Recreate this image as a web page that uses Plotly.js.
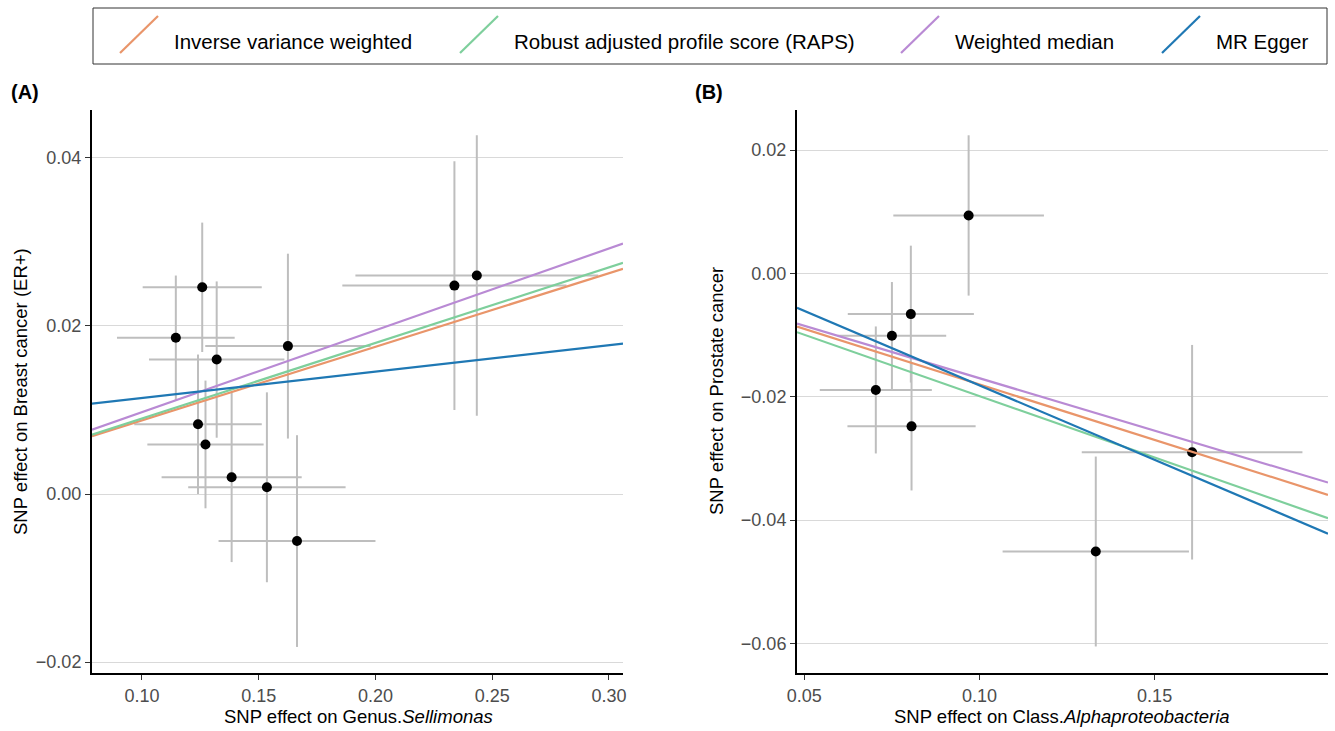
<!DOCTYPE html>
<html>
<head>
<meta charset="utf-8">
<script src="https://cdn.plot.ly/plotly-3.0.1.min.js"></script>
<style>html,body{margin:0;padding:0;background:#fff;}#chart{width:1335px;height:731px;}</style>
</head>
<body>
<div id="chart"></div>
<script>
// ---------- Data ----------
// Panel A: Genus.Sellimonas -> Breast cancer (ER+)
const bxA  = [0.1145, 0.1258, 0.1320, 0.1625, 0.2338, 0.2434, 0.1240, 0.1272, 0.1384, 0.1535, 0.1664];
const byA  = [0.0186, 0.0246, 0.0160, 0.0176, 0.0248, 0.0260, 0.0083, 0.0059, 0.0020, 0.0008, -0.0056];
const sexA = [0.0252, 0.0255, 0.0290, 0.0354, 0.0480, 0.0520, 0.0273, 0.0249, 0.0300, 0.0337, 0.0336];
const seyA = [0.0074, 0.0077, 0.0093, 0.0110, 0.0148, 0.0167, 0.0083, 0.0076, 0.0101, 0.0113, 0.0126];

// Panel B: Class.Alphaproteobacteria -> Prostate cancer
const bxB  = [0.0969, 0.0804, 0.0750, 0.0704, 0.0806, 0.1607, 0.1332];
const byB  = [0.0094, -0.0066, -0.0101, -0.0189, -0.0248, -0.0290, -0.0451];
const sexB = [0.0215, 0.0180, 0.0155, 0.0160, 0.0183, 0.0315, 0.0266];
const seyB = [0.0130, 0.0111, 0.0087, 0.0103, 0.0104, 0.0174, 0.0154];

// MR methods (slopes / intercepts)
const methods    = ["Inverse variance weighted", "Robust adjusted profile score (RAPS)", "Weighted median", "MR Egger"];
const slopeA     = [0.0876, 0.0899, 0.0974, 0.0315];
const interceptA = [0, 0, 0, 0.00827];
const slopeB     = [-0.180, -0.199, -0.170, -0.2417];
const interceptB = [0, 0, 0, 0.00602];

// Axis ranges and ticks
const xRangeA = [0.0786, 0.306];
const yRangeA = [-0.0213, 0.0457];
const xRangeB = [0.0479, 0.1995];
const yRangeB = [-0.0648, 0.0265];
const xTicksA = [0.10, 0.15, 0.20, 0.25, 0.30];
const xTickTextA = ["0.10", "0.15", "0.20", "0.25", "0.30"];
const yTicksA = [-0.02, 0.00, 0.02, 0.04];
const yTickTextA = ["\u22120.02", "0.00", "0.02", "0.04"];
const xTicksB = [0.05, 0.10, 0.15];
const xTickTextB = ["0.05", "0.10", "0.15"];
const yTicksB = [-0.06, -0.04, -0.02, 0.00, 0.02];
const yTickTextB = ["\u22120.06", "\u22120.04", "\u22120.02", "0.00", "0.02"];

// ---------- Styling ----------
const colors = ["#E9956A", "#7ECF9C", "#B98AD4", "#1F78B4"];
const FONT = "Liberation Sans, Arial, Helvetica, sans-serif";
const W = 1335, H = 731;
const px = v => v / W;
const py = v => 1 - v / H;
const TICK_SIZE = 18, TITLE_SIZE = 18.5, LEGEND_SIZE = 20.5, PANEL_SIZE = 20;

function pointsTrace(bx, by, sex, sey, xa, ya) {
  return {
    type: "scatter", mode: "markers", x: bx, y: by, xaxis: xa, yaxis: ya,
    marker: {color: "#000", size: 10},
    error_x: {type: "data", array: sex, visible: true, color: "#BEBEBE", thickness: 2, width: 0},
    error_y: {type: "data", array: sey, visible: true, color: "#BEBEBE", thickness: 2, width: 0},
    showlegend: false, hoverinfo: "x+y"
  };
}
function lineTraces(slopes, ints, xr, xa, ya) {
  return slopes.map((b, i) => ({
    type: "scatter", mode: "lines", xaxis: xa, yaxis: ya,
    x: [xr[0], xr[1]], y: [ints[i] + b * xr[0], ints[i] + b * xr[1]],
    line: {color: colors[i], width: 2.2}, name: methods[i], showlegend: false
  }));
}

const traces = [
  pointsTrace(bxA, byA, sexA, seyA, "x", "y"),
  ...lineTraces(slopeA, interceptA, xRangeA, "x", "y"),
  pointsTrace(bxB, byB, sexB, seyB, "x2", "y2"),
  ...lineTraces(slopeB, interceptB, xRangeB, "x2", "y2")
];

function xaxisCfg(dom, range, tv, tt) {
  return {
    domain: dom, range: range, tickvals: tv, ticktext: tt, showgrid: false, zeroline: false,
    showline: true, linecolor: "#000", linewidth: 2, ticks: "outside", ticklen: 5, tickcolor: "#333",
    tickfont: {family: FONT, size: TICK_SIZE, color: "#4D4D4D"}, automargin: false, fixedrange: true
  };
}
function yaxisCfg(dom, range, tv, tt, anchor) {
  return {
    domain: dom, range: range, tickvals: tv, ticktext: tt, anchor: anchor, showgrid: true,
    gridcolor: "#D9D9D9", gridwidth: 1, zeroline: false,
    showline: true, linecolor: "#000", linewidth: 2, ticks: "outside", ticklen: 5, tickcolor: "#333",
    tickfont: {family: FONT, size: TICK_SIZE, color: "#4D4D4D"}, automargin: false, fixedrange: true
  };
}

const yDom = [py(673), py(110)];
const layout = {
  width: W, height: H, margin: {l: 0, r: 0, t: 0, b: 0},
  paper_bgcolor: "#fff", plot_bgcolor: "#fff",
  font: {family: FONT, color: "#000"},
  showlegend: false,
  xaxis:  xaxisCfg([px(92), px(623)], xRangeA, xTicksA, xTickTextA),
  yaxis:  yaxisCfg(yDom, yRangeA, yTicksA, yTickTextA, "x"),
  xaxis2: Object.assign(xaxisCfg([px(797), px(1328)], xRangeB, xTicksB, xTickTextB), {anchor: "y2"}),
  yaxis2: yaxisCfg(yDom, yRangeB, yTicksB, yTickTextB, "x2"),
  shapes: [
    {type: "rect", xref: "paper", yref: "paper", x0: px(93), x1: px(1327), y0: py(64), y1: py(8),
     line: {color: "#333", width: 1}, fillcolor: "rgba(0,0,0,0)"}
  ],
  annotations: [
    {text: "<b>(A)</b>", xref: "paper", yref: "paper", x: px(9), y: py(92), xanchor: "left", yanchor: "middle",
     showarrow: false, font: {family: FONT, size: PANEL_SIZE, color: "#000"}},
    {text: "<b>(B)</b>", xref: "paper", yref: "paper", x: px(693), y: py(92), xanchor: "left", yanchor: "middle",
     showarrow: false, font: {family: FONT, size: PANEL_SIZE, color: "#000"}},
    {text: "SNP effect on Genus.<i>Sellimonas</i>", xref: "paper", yref: "paper", x: px(358), y: py(716),
     xanchor: "center", yanchor: "middle", showarrow: false, font: {family: FONT, size: TITLE_SIZE, color: "#000"}},
    {text: "SNP effect on Class.<i>Alphaproteobacteria</i>", xref: "paper", yref: "paper", x: px(1062), y: py(716),
     xanchor: "center", yanchor: "middle", showarrow: false, font: {family: FONT, size: TITLE_SIZE, color: "#000"}},
    {text: "SNP effect on Breast cancer (ER+)", xref: "paper", yref: "paper", x: px(20), y: py(392), textangle: -90,
     xanchor: "center", yanchor: "middle", showarrow: false, font: {family: FONT, size: TITLE_SIZE, color: "#000"}},
    {text: "SNP effect on Prostate cancer", xref: "paper", yref: "paper", x: px(717), y: py(391), textangle: -90,
     xanchor: "center", yanchor: "middle", showarrow: false, font: {family: FONT, size: TITLE_SIZE, color: "#000"}}
  ]
};

// Legend (diagonal keys like ggplot abline keys)
const legendTextX = [172, 512, 953, 1214];
methods.forEach((m, i) => {
  const tx = legendTextX[i];
  layout.shapes.push({type: "line", xref: "paper", yref: "paper",
    x0: px(tx - 52), y0: py(53), x1: px(tx - 14), y1: py(16), line: {color: colors[i], width: 2.2}});
  layout.annotations.push({text: m, xref: "paper", yref: "paper", x: px(tx), y: py(42),
    xanchor: "left", yanchor: "middle", showarrow: false, font: {family: FONT, size: LEGEND_SIZE, color: "#000"}});
});

Plotly.newPlot("chart", traces, layout, {displayModeBar: false, staticPlot: true});
</script>
</body>
</html>
